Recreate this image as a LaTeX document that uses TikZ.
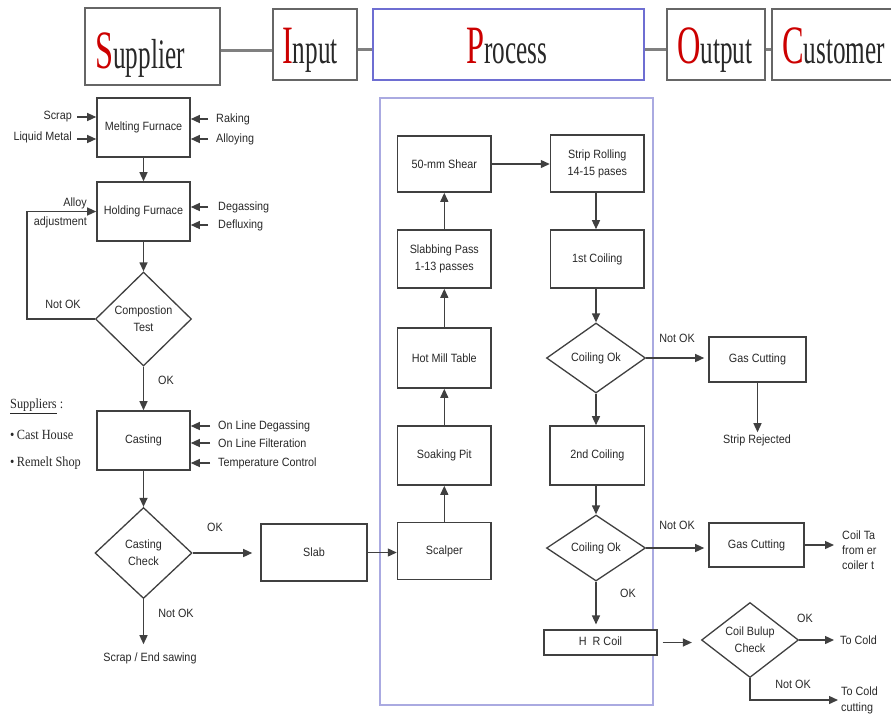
\documentclass[tikz,border=0pt]{standalone}
\usepackage{fontspec}
\setmainfont[FakeStretch=0.9]{Liberation Sans}
\newfontfamily\hdrfont[FakeStretch=0.6]{Liberation Serif}
\newfontfamily\serfont[FakeStretch=0.88]{Liberation Serif}
\usetikzlibrary{arrows.meta,shapes.geometric}
\definecolor{hdrred}{RGB}{204,0,0}
\definecolor{procblue}{RGB}{110,110,210}
\definecolor{contblue}{RGB}{170,170,225}
\definecolor{txt}{RGB}{40,40,40}
\newcommand{\hdrtxt}[2]{\hdrfont\fontsize{54}{54}\selectfont\textcolor{hdrred}{#1}\fontsize{42}{42}\selectfont\textcolor{txt}{#2}}
\begin{document}
\begin{tikzpicture}[x=1pt,y=-1pt,
  font=\fontsize{12}{17}\selectfont,
  every node/.style={text=txt},
  box/.style={draw=black!75, line width=1.6pt, inner sep=0pt, align=center, fill=white},
  hbox/.style={draw=black!60, line width=1.8pt, inner sep=0pt, fill=white},
  dia/.style={diamond, draw=black!75, line width=1.3pt, inner sep=0pt, align=center, fill=white},
  arr/.style={draw=black!75, line width=1.3pt, -{Triangle[length=9pt,width=8pt]}},
  lbl/.style={inner sep=0pt, align=center},
  hlink/.style={draw=black!50, line width=3pt},
  ser/.style={inner sep=0pt, anchor=west, font=\serfont\fontsize{14}{14}\selectfont}]
\useasboundingbox (0,0) rectangle (891,716);
\clip (0,0) rectangle (891,716);

% ---------- header ----------
\node[hbox, minimum width=135, minimum height=77] (sup) at (152.5,46.5) {};
\node[hbox, minimum width=84, minimum height=71] (inp) at (315,44.5) {};
\node[hbox, draw=procblue, line width=1.2pt, minimum width=271, minimum height=71] (proc) at (508.5,44.5) {};
\node[hbox, minimum width=98, minimum height=71] (outp) at (716,44.5) {};
\node[hbox, minimum width=128, minimum height=71] (cust) at (836,44.5) {};
\draw[hlink] ([yshift=-4pt]sup.east) -- ([yshift=-4pt]sup.east -| inp.west);
\draw[hlink] ([yshift=-5pt]inp.east) -- ([yshift=-5pt]inp.east -| proc.west);
\draw[hlink] ([yshift=-5pt]proc.east) -- ([yshift=-5pt]proc.east -| outp.west);
\draw[hlink] ([yshift=-5pt]outp.east) -- ([yshift=-5pt]outp.east -| cust.west);
\node[inner sep=0pt, anchor=base west] (tsup) at (95,68) {\hdrtxt{S}{upplier}};
\node[inner sep=0pt, anchor=base west] (tinp) at (282,63) {\hdrtxt{I}{nput}};
\node[inner sep=0pt, anchor=base west] (tproc) at (466,63) {\hdrtxt{P}{rocess}};
\node[inner sep=0pt, anchor=base west] (tout) at (677,63) {\hdrtxt{O}{utput}};
\node[inner sep=0pt, anchor=base west] (tcust) at (782,63) {\hdrtxt{C}{ustomer}};

% ---------- process container ----------
\node[draw=contblue, line width=1.2pt, minimum width=273, minimum height=607, inner sep=0pt] (cont) at (516.5,401.5) {};

% ---------- left column ----------
\node[box, minimum width=93, minimum height=59] (mf) at (143.5,127.5) {Melting Furnace};
\node[box, minimum width=93, minimum height=59] (hf) at (143.5,211.5) {Holding Furnace};
\node[dia, minimum width=96, minimum height=94] (ct) at (143.5,319) {Compostion\\Test};
\node[box, minimum width=93, minimum height=59] (cast) at (143.5,440.5) {Casting};
\node[dia, minimum width=97, minimum height=91] (cc) at (143.5,553) {Casting\\Check};
\node[box, minimum width=106, minimum height=57] (slab) at (314,552.5) {Slab};
\node[lbl] (sew) at (150,658) {Scrap / End sawing};
\coordinate (loopx) at (27,0);

\node[lbl, anchor=east] (scrap) at (72,117) {Scrap};
\node[lbl, anchor=east] (liq) at (72,137) {Liquid Metal};
\node[lbl, anchor=west] (rak) at (216,119) {Raking};
\node[lbl, anchor=west] (alloy) at (216,139) {Alloying};
\node[lbl, anchor=west] (degas) at (218,207) {Degassing};
\node[lbl, anchor=west] (deflux) at (218,225) {Defluxing};
\node[lbl, anchor=east, align=right, font=\fontsize{12}{19}\selectfont] (aadj) at (87,212.5) {Alloy\\adjustment};
\node[lbl, anchor=west] (oldeg) at (218,426) {On Line Degassing};
\node[lbl, anchor=west] (olfil) at (218,443) {On Line Filteration};
\node[lbl, anchor=west] (tc) at (218,463) {Temperature Control};

\draw[arr] ([xshift=5pt]scrap.east) -- (scrap.east -| mf.west);
\draw[arr] ([xshift=5pt]liq.east |- 0,139) -- (mf.west |- 0,139);
\draw[arr] ([xshift=-8pt]rak.west) -- (rak.west -| mf.east);
\draw[arr] ([xshift=-8pt]alloy.west) -- (alloy.west -| mf.east);
\draw[arr] ([xshift=-10pt]degas.west) -- (degas.west -| hf.east);
\draw[arr] ([xshift=-10pt]deflux.west) -- (deflux.west -| hf.east);
\draw[arr] ([xshift=-8pt]oldeg.west) -- (oldeg.west -| cast.east);
\draw[arr] ([xshift=-8pt]olfil.west) -- (olfil.west -| cast.east);
\draw[arr] ([xshift=-8pt]tc.west) -- (tc.west -| cast.east);

\draw[arr] (mf) -- (hf);
\draw[arr] (hf) -- (ct);
\draw[arr] (ct) -- (cast);
\draw[arr] (cast) -- (cc);
\draw[arr] (ct.west) -- (ct.west -| loopx) |- (hf.west);
\draw[arr, shorten >=8pt] (cc.east) -- (cc.east -| slab.west);
\draw[arr, shorten >=8pt] (cc.south) -- (cc.south |- sew.north);
\node[lbl] (nok1) at (63,304) {Not OK};
\node[lbl] (ok1) at (166,380) {OK};
\node[lbl] (ok2) at (215,527) {OK};
\node[lbl] (nok2) at (176,613) {Not OK};

\node[ser] (supl) at (10,406) {\underline{Suppliers} :};
\node[ser] (ch) at (10,435) {\textbullet\,Cast House};
\node[ser] (rs) at (10,463) {\textbullet\,Remelt Shop};

% ---------- process: middle column ----------
\node[box, minimum width=93.5, minimum height=56] (shear) at (444.3,164) {50-mm Shear};
\node[box, minimum width=93.5, minimum height=58] (slabp) at (444.3,259) {Slabbing Pass\\1-13 passes};
\node[box, minimum width=93.5, minimum height=60] (hmt) at (444.3,358) {Hot Mill Table};
\node[box, minimum width=93.5, minimum height=59] (soak) at (444.3,455.5) {Soaking Pit};
\node[box, minimum width=93.5, minimum height=57] (scal) at (444.3,551) {Scalper};

\draw[arr] (slab.east) -- (slab.east -| scal.west);
\draw[arr] (scal) -- (soak);
\draw[arr] (soak) -- (hmt);
\draw[arr] (hmt) -- (slabp);
\draw[arr] (slabp) -- (shear);

% ---------- process: right column ----------
\node[box, minimum width=93.5, minimum height=57] (strip) at (597.3,163.5) {Strip Rolling\\14-15 pases};
\node[box, minimum width=93.5, minimum height=58] (c1) at (597.3,259) {1st Coiling};
\node[dia, minimum width=99, minimum height=70] (d1) at (596,358) {Coiling Ok};
\node[box, minimum width=94.5, minimum height=59] (c2) at (597.3,455.5) {2nd Coiling};
\node[dia, minimum width=99, minimum height=66] (d2) at (596,548) {Coiling Ok};
\node[box, line width=1.1pt, minimum width=113, minimum height=25] (hr) at (600.5,642.5) {\raisebox{3pt}{H\ \ R Coil}};

\draw[arr] (shear.east) -- (shear.east -| strip.west);
\draw[arr] (strip.south -| d1) -- (c1.north -| d1);
\draw[arr] (c1.south -| d1) -- (d1.north);
\draw[arr] (d1.south) -- (c2.north -| d1);
\draw[arr] (c2.south -| d2) -- (d2.north);
\draw[arr, shorten >=5pt] (d2.south) -- (d2.south |- hr.north);
\node[lbl] (ok3) at (628,593) {OK};

% ---------- right side ----------
\node[box, minimum width=97, minimum height=45] (gc1) at (757.5,359.5) {Gas Cutting};
\node[lbl] (srej) at (757,440) {Strip Rejected};
\node[box, minimum width=95, minimum height=44] (gc2) at (756.5,545) {Gas Cutting};
\node[lbl, anchor=west, align=left, font=\fontsize{12}{15}\selectfont] (cta) at (842,550) {Coil Ta\\from er\\coiler t};
\node[dia, minimum width=97, minimum height=70] (cb) at (750,640) {Coil Bulup\\Check};
\node[lbl, anchor=west] (tc1) at (840,640) {To Cold};
\node[lbl, anchor=west, align=left, font=\fontsize{12}{16}\selectfont] (tc2) at (841,700) {To Cold\\cutting};

\draw[arr, shorten >=4pt] (d1.east) -- (d1.east -| gc1.west);
\draw[arr, shorten >=2pt] (gc1.south) -- (gc1.south |- srej.north);
\draw[arr, shorten >=4pt] (d2.east) -- (d2.east -| gc2.west);
\draw[arr, shorten >=8pt] (gc2.east) -- (gc2.east -| cta.west);
\draw[arr, shorten <=5pt, shorten >=9pt] (hr.east) -- (hr.east -| cb.west);
\draw[arr, shorten >=6pt] (cb.east) -- (cb.east -| tc1.west);
\draw[arr, shorten >=3pt] (cb.south) |- (tc2.west);
\node[lbl] (nok3) at (677,338) {Not OK};
\node[lbl] (nok4) at (677,525) {Not OK};
\node[lbl] (ok4) at (805,618) {OK};
\node[lbl] (nok5) at (793,684) {Not OK};
\end{tikzpicture}
\end{document}
